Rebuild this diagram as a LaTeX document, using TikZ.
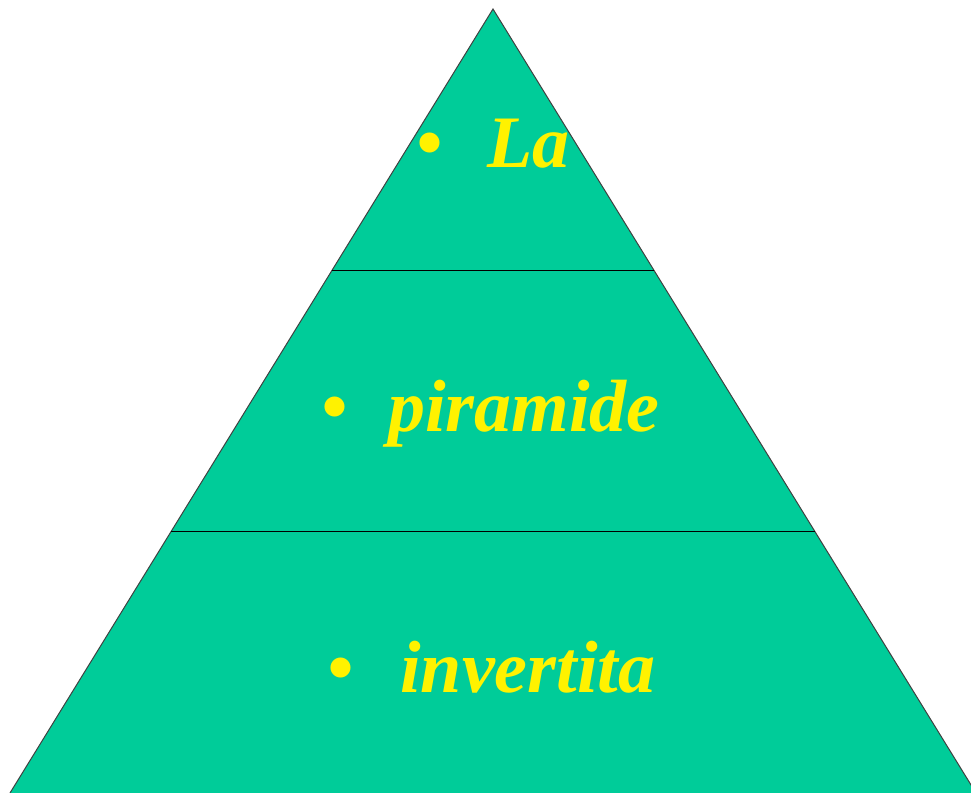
\documentclass[tikz,border=0pt]{standalone}
\usepackage{fontspec}
\setmainfont{Liberation Serif}
\usetikzlibrary{calc}
\definecolor{pyrgreen}{HTML}{00CC99}

\begin{document}
\begin{tikzpicture}[x=0.5pt,y=-0.5pt,
  word/.style={text=yellow, inner sep=0pt, anchor=base west,
    font=\fontsize{37}{40}\selectfont\bfseries\itshape}]
\useasboundingbox (0,0) rectangle (971,793);
\coordinate (apex) at (493,9);
\coordinate (bl) at (10,793);
\coordinate (br) at (976,793);
\fill[pyrgreen] (apex) -- (bl) -- (br) -- cycle;
\draw[line width=0.5pt, black!75] (bl) -- (apex) -- (br);
\foreach \f in {1,2} {
  \coordinate (l\f) at ($(apex)!\f/3!(bl)$);
  \coordinate (r\f) at ($(apex)!\f/3!(br)$);
  \draw[line width=0.7pt] (l\f) -- (r\f);
}
\foreach \bx/\wx/\y/\w [count=\i] in {416/487/167/La, 321/388/431/piramide, 327/400/692/invertita} {
  \node[word] (b\i) at (\bx,\y) {\textbullet};
  \node[word] (w\i) at (\wx,\y) {\w};
}
\end{tikzpicture}
\end{document}
